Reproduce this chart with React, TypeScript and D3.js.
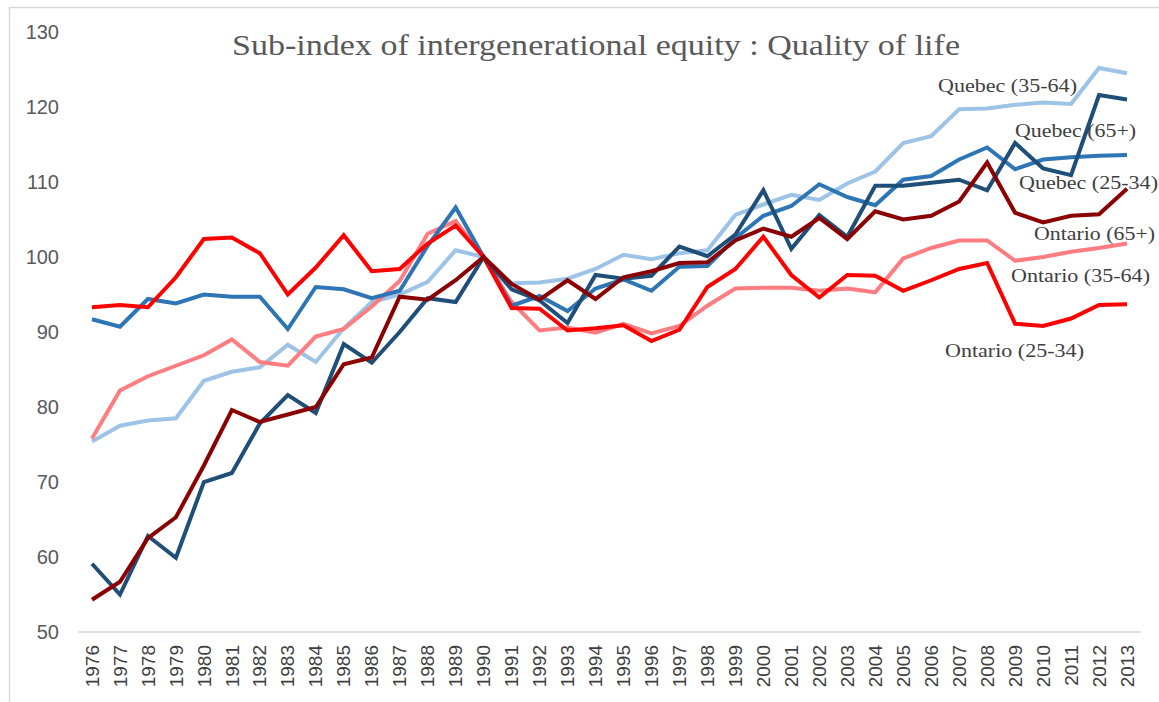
import React from "react";
import * as d3 from "d3";

const years: number[] = [
  1976, 1977, 1978, 1979, 1980, 1981, 1982, 1983, 1984, 1985, 1986, 1987, 1988,
  1989, 1990, 1991, 1992, 1993, 1994, 1995, 1996, 1997, 1998, 1999, 2000, 2001,
  2002, 2003, 2004, 2005, 2006, 2007, 2008, 2009, 2010, 2011, 2012, 2013,
];

const yTicks: number[] = [50, 60, 70, 80, 90, 100, 110, 120, 130];

const quebec3564: number[] = [
  75.4, 77.5, 78.2, 78.5, 83.5, 84.7, 85.3, 88.3, 86.0, 90.5, 94.0, 95.0, 96.7,
  100.9, 100, 96.5, 96.6, 97.1, 98.4, 100.3, 99.7, 100.5, 100.9, 105.6, 107.0,
  108.3, 107.6, 109.8, 111.4, 115.2, 116.1, 119.7, 119.8, 120.3, 120.6, 120.4,
  125.2, 124.5,
];
const ontario3564: number[] = [
  75.8, 82.2, 84.1, 85.5, 86.9, 89.0, 86.0, 85.5, 89.4, 90.4, 93.4, 96.8, 103.1,
  104.8, 100, 94.0, 90.2, 90.6, 89.9, 91.1, 89.8, 90.8, 93.5, 95.8, 95.9, 95.9,
  95.5, 95.8, 95.3, 99.8, 101.2, 102.2, 102.2, 99.5, 100.0, 100.7, 101.2, 101.8,
];
const quebec2534: number[] = [
  91.7, 90.7, 94.4, 93.8, 95.0, 94.7, 94.7, 90.4, 96.0, 95.7, 94.5, 95.5, 101.5,
  106.6, 100, 93.5, 94.8, 92.8, 95.8, 97.0, 95.5, 98.7, 98.8, 102.5, 105.5,
  106.8, 109.7, 108.0, 106.9, 110.3, 110.8, 113.0, 114.6, 111.7, 113.0, 113.3,
  113.5, 113.6,
];
const ontario2534: number[] = [
  93.3, 93.6, 93.3, 97.3, 102.4, 102.6, 100.5, 95.0, 98.6, 102.9, 98.1, 98.4,
  101.8, 104.2, 100, 93.2, 93.1, 90.2, 90.5, 90.9, 88.8, 90.3, 96.0, 98.4, 102.7,
  97.6, 94.6, 97.6, 97.5, 95.5, 96.9, 98.4, 99.2, 91.1, 90.8, 91.8, 93.6, 93.7,
];
const quebec65: number[] = [
  59.1, 55.0, 62.8, 59.9, 70.0, 71.2, 77.8, 81.6, 79.2, 88.4, 85.9, 90.0, 94.5,
  94.0, 100, 95.7, 94.2, 91.2, 97.6, 97.1, 97.5, 101.4, 100.1, 103.0, 108.9,
  101.1, 105.6, 102.7, 109.5, 109.5, 109.9, 110.3, 108.9, 115.2, 111.8, 110.9,
  121.6, 121.0,
];
const ontario65: number[] = [
  54.3, 56.7, 62.5, 65.3, 72.2, 79.6, 78.0, 79.0, 80.0, 85.7, 86.6, 94.7, 94.3,
  96.9, 100, 96.4, 94.3, 96.9, 94.4, 97.3, 98.1, 99.2, 99.3, 102.2, 103.8, 102.7,
  105.2, 102.4, 106.1, 105.0, 105.5, 107.4, 112.6, 105.9, 104.6, 105.5, 105.7,
  109.1,
];

const seriesNames: string[] = [
  "Quebec (35-64)",
  "Ontario (35-64)",
  "Quebec (25-34)",
  "Ontario (25-34)",
  "Quebec (65+)",
  "Ontario (65+)",
];
const seriesValues: number[][] = [
  quebec3564,
  ontario3564,
  quebec2534,
  ontario2534,
  quebec65,
  ontario65,
];
const seriesColors: string[] = [
  "#9DC3E6",
  "#FF7C80",
  "#2E75B6",
  "#FF0000",
  "#1F4E79",
  "#8B0000",
];

// label placement: [x, baseline y, width]
const labelPos: Record<string, [number, number, number]> = {
  "Quebec (35-64)": [938, 92, 139],
  "Quebec (65+)": [1015, 137, 121],
  "Quebec (25-34)": [1019, 189, 139],
  "Ontario (65+)": [1034, 240, 121],
  "Ontario (35-64)": [1011, 282, 139],
  "Ontario (25-34)": [945, 357, 139],
};

const title = "Sub-index of intergenerational equity : Quality of life";

export default function App() {
  const W = 1159;
  const H = 702;
  const x = d3
    .scalePoint<number>()
    .domain(years)
    .range([78, 1141])
    .padding(0.5);
  const y = d3.scaleLinear().domain([50, 130]).range([632, 32]);
  const line = d3
    .line<number>()
    .x((_, i) => x(years[i]) as number)
    .y((d) => y(d));

  return (
    <svg
      width={W}
      height={H}
      style={{ position: "absolute", left: 0, top: 0, background: "#fff" }}
    >
      <rect x={0} y={0} width={W} height={H} fill="#fff" />
      <rect
        x={9.5}
        y={7.5}
        width={W}
        height={H}
        fill="none"
        stroke="#d9d9d9"
        strokeWidth={1.5}
      />
      <text
        x={232}
        y={55}
        fontFamily="Liberation Serif"
        fontSize={29}
        fill="#595959"
        textLength={728}
        lengthAdjust="spacingAndGlyphs"
      >
        {title}
      </text>
      {yTicks.map((t) => (
        <text
          key={t}
          x={59}
          y={y(t)}
          dy="0.35em"
          textAnchor="end"
          fontFamily="Liberation Sans"
          fontSize={20}
          fill="#595959"
        >
          {t}
        </text>
      ))}
      <line x1={78} x2={1141} y1={632} y2={632} stroke="#d9d9d9" strokeWidth={1.5} />
      {years.map((yr) => (
        <text
          key={yr}
          transform={`translate(${x(yr)},645) rotate(-90)`}
          dy="0.35em"
          textAnchor="end"
          fontFamily="Liberation Sans"
          fontSize={19}
          fill="#404040"
        >
          {yr}
        </text>
      ))}
      {seriesValues.map((vals, i) => (
        <path
          key={seriesNames[i]}
          d={line(vals) as string}
          fill="none"
          stroke={seriesColors[i]}
          strokeWidth={4}
          strokeLinejoin="miter"
        />
      ))}
      {seriesNames.map((n) => {
        const [lx, ly, lw] = labelPos[n];
        return (
          <text
            key={n}
            x={lx}
            y={ly}
            fontFamily="Liberation Serif"
            fontSize={19}
            fill="#404040"
            textLength={lw}
            lengthAdjust="spacingAndGlyphs"
          >
            {n}
          </text>
        );
      })}
    </svg>
  );
}
